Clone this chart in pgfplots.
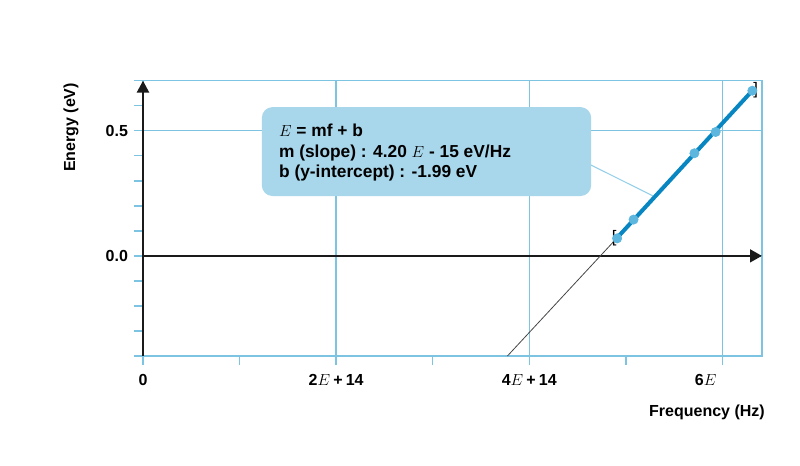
\documentclass[border=0pt]{standalone}
\usepackage{fontspec}
\setmainfont{Liberation Sans}
\usepackage{pgfplots}
\pgfplotsset{compat=1.18}
\usetikzlibrary{arrows.meta}

\definecolor{gridblue}{RGB}{125,196,226}
\definecolor{fitblue}{RGB}{8,134,194}
\definecolor{markblue}{RGB}{92,182,222}
\definecolor{boxblue}{RGB}{168,214,234}
\definecolor{connblue}{RGB}{150,208,232}
\definecolor{axisblack}{RGB}{26,26,26}
\definecolor{extgray}{RGB}{70,70,70}

\newcommand{\plussp}{\hspace{.2em}+\hspace{.2em}}

\begin{document}
\begin{tikzpicture}
% page frame, 800x465 px at 0.75pt per px
\path (-107.25pt,-81.75pt) rectangle (492.75pt,267pt);
\begin{axis}[
  set layers,
  at={(0,0)}, anchor=south west,
  scale only axis, width=464.25pt, height=206.5pt,
  xmin=0, xmax=6.41e14,
  ymin=-0.4, ymax=0.7,
  scaled x ticks=false,
  axis line style={gridblue, line width=1.1pt},
  xtick={0,2e14,4e14,6e14},
  xticklabels={0, 2$E$\plussp14, 4$E$\plussp14, 6$E$\phantom{\plussp14}},
  minor xtick={1e14,3e14,5e14},
  ytick={0,0.5},
  yticklabels={0.0,0.5},
  minor ytick={-0.4,-0.3,-0.2,-0.1,0.1,0.2,0.3,0.4,0.6,0.7},
  tick align=outside, tick pos=left,
  major tick length=6.75pt, minor tick length=6.75pt,
  every tick/.style={gridblue, line width=1.1pt},
  grid=major,
  major grid style={gridblue, line width=1.1pt},
  tick label style={font=\bfseries\fontsize{12}{14}\selectfont},
  xticklabel style={yshift=-3.5pt},
  yticklabel style={xshift=-1pt},
  clip=false,
]
% axes through the origin
\draw[axisblack, line width=1.9pt, -{Triangle[length=9pt,width=9pt]}]
  (axis cs:0,-0.4) -- (axis cs:0,0.7);
\draw[axisblack, line width=1.9pt, -{Triangle[length=9pt,width=9.5pt]}]
  (axis cs:0,0) -- (axis cs:6.41e14,0);

% callout
\draw[connblue, line width=0.8pt] (rel axis cs:0.70,0.72) -- (axis cs:5.3e14,0.236);
\fill[boxblue, rounded corners=8pt] (rel axis cs:0.192,0.581) rectangle (rel axis cs:0.724,0.904);
\node[anchor=west, align=left, inner sep=0pt, font=\bfseries\fontsize{13}{15.4}\selectfont]
  at ([xshift=12.75pt,yshift=-1pt]rel axis cs:0.192,0.7425)
  {$E$ = mf + b\\m (slope) : 4.20 $E$ - 15 eV/Hz\\b (y-intercept) : -1.99 eV};

% extrapolation of the fit down to the axis
\addplot[extgray, line width=0.6pt] coordinates {(3.7738e14,-0.4) (4.91e14,0.0722)};
% fit over the data range
\addplot[fitblue, line width=3pt] coordinates {(4.91e14,0.0722) (6.31e14,0.6602)};
% measurements
\addplot[only marks, mark=*, mark size=3.5pt, markblue, mark options={draw=markblue, fill=markblue}]
  coordinates {(4.91e14,0.07) (5.08e14,0.145) (5.71e14,0.41) (5.93e14,0.495) (6.31e14,0.66)};

% range brackets
\node[on layer=axis foreground, anchor=east, inner sep=0pt, font=\fontsize{12.5}{14}\selectfont]
  at ([xshift=-0.2pt]axis cs:4.91e14,0.07) {[};
\node[on layer=axis foreground, anchor=west, inner sep=0pt, font=\fontsize{12.5}{14}\selectfont]
  at ([xshift=0.5pt]axis cs:6.31e14,0.66) {]};

% axis titles
\node[rotate=90, font=\bfseries\fontsize{12}{14}\selectfont] at ([xshift=-54pt]rel axis cs:0,0.83) {Energy (eV)};
\node[anchor=east, font=\bfseries\fontsize{12}{14}\selectfont, inner sep=0pt] at ([xshift=2.25pt,yshift=-42pt]rel axis cs:1,0) {Frequency (Hz)};
\end{axis}
\end{tikzpicture}
\end{document}
